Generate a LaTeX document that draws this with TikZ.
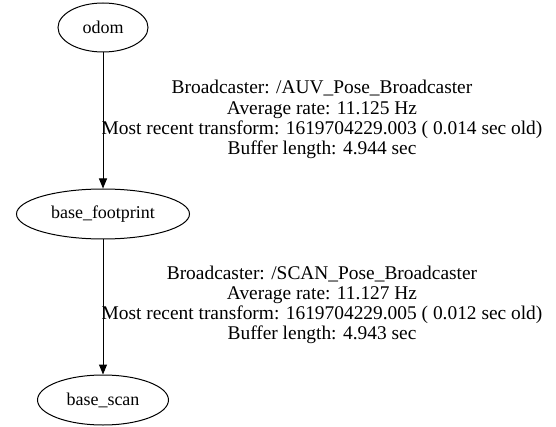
\documentclass[tikz,border=0pt]{standalone}
\usepackage{fontspec}
\setmainfont{Liberation Serif}
\usetikzlibrary{shapes.geometric,arrows.meta}
\begin{document}
\begin{tikzpicture}[x=1pt,y=-1pt,
  frame/.style={draw, ellipse, line width=1pt, inner sep=0pt, font=\fontsize{18}{18}\selectfont},
  tfedge/.style={line width=1pt, -{Triangle[length=10pt,width=8pt]}},
  tflabel/.style={align=center, inner sep=0pt, font=\fontsize{19.4}{20.2}\selectfont}]
  \useasboundingbox (0,0) rectangle (556,427);
  % frames of the transform tree
  \node[frame, minimum width=90pt, minimum height=49pt] (odom) at (103,27.5) {odom};
  \node[frame, minimum width=173pt, minimum height=50pt] (fp) at (103,214) {base\_footprint};
  \node[frame, minimum width=131pt, minimum height=50pt] (scan) at (103,400) {base\_scan};
  % transforms between frames
  \draw[tfedge] (odom) -- (fp);
  \draw[tfedge] (fp) -- (scan);
  % broadcaster details
  \node[tflabel] (l1) at (322,119.5) {Broadcaster: /AUV\_Pose\_Broadcaster\\Average rate: 11.125 Hz\\Most recent transform: 1619704229.003 ( 0.014 sec old)\\Buffer length: 4.944 sec};
  \node[tflabel] (l2) at (322,305) {Broadcaster: /SCAN\_Pose\_Broadcaster\\Average rate: 11.127 Hz\\Most recent transform: 1619704229.005 ( 0.012 sec old)\\Buffer length: 4.943 sec};
\end{tikzpicture}
\end{document}
